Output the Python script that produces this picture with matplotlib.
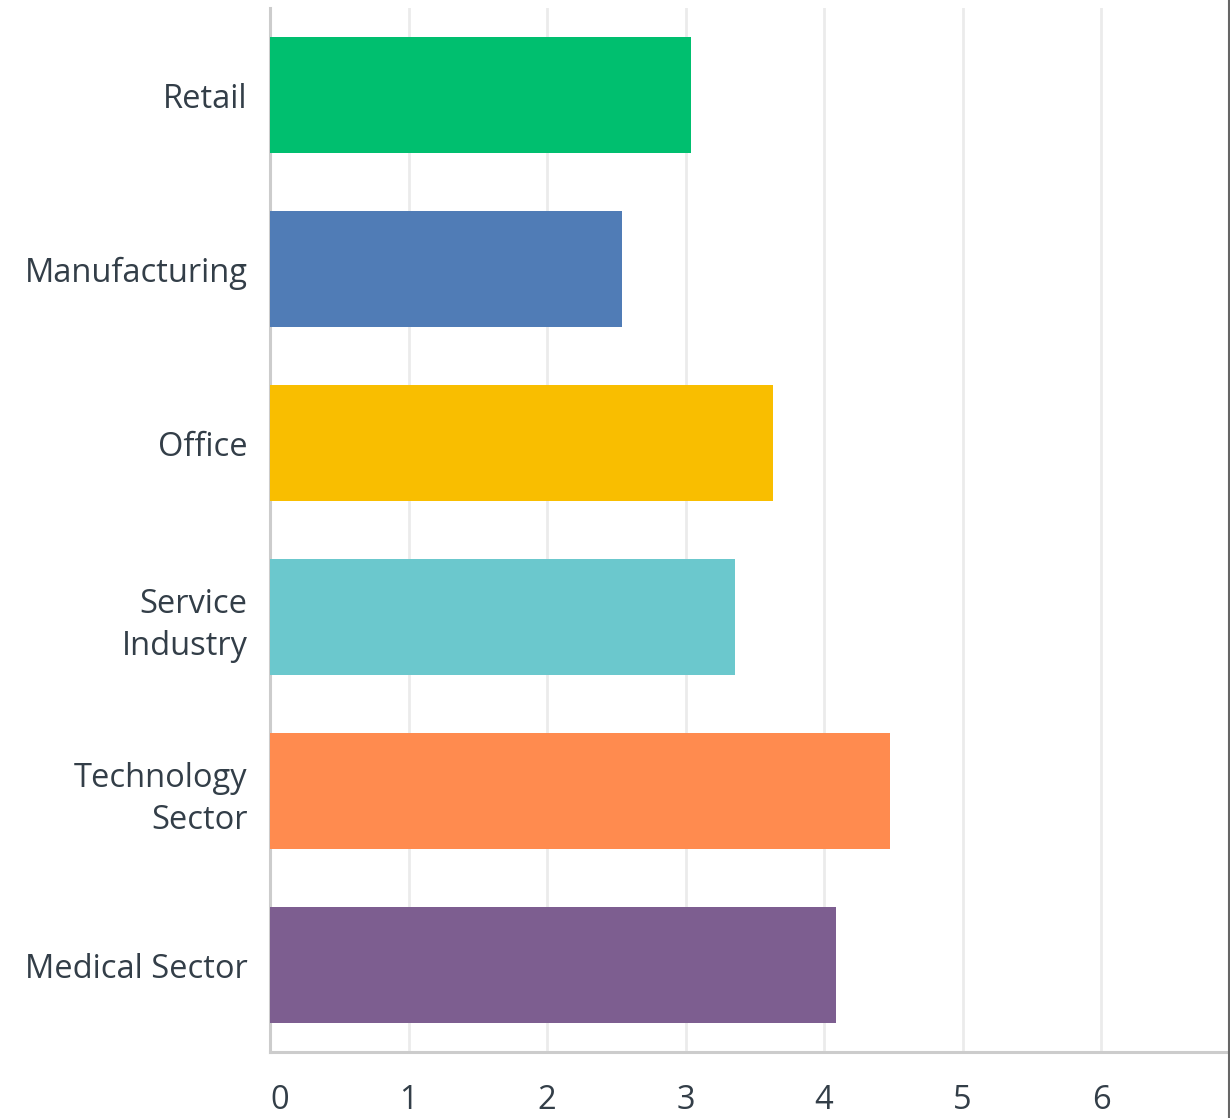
import matplotlib
matplotlib.use("Agg")
import matplotlib.pyplot as plt
from matplotlib.lines import Line2D

# Данные
categories = ["Retail", "Manufacturing", "Office", "Service\nIndustry",
              "Technology\nSector", "Medical Sector"]
values = [3.04, 2.54, 3.63, 3.36, 4.48, 4.09]
colors = ["#00BF6F", "#507CB6", "#F9BE00", "#6BC8CD", "#FF8B4F", "#7D5E90"]
x_ticks = [0, 1, 2, 3, 4, 5, 6]

plt.rcParams['font.family'] = ['Open Sans', 'DejaVu Sans']

fig = plt.figure(figsize=(12.3, 11.18), dpi=100)
ax = fig.add_axes([270 / 1230, 66 / 1118, 960 / 1230, 1044 / 1118])

ax.barh(range(len(categories)), values, height=0.667, color=colors, zorder=3)

ax.set_ylim(len(categories) - 0.5, -0.5)
ax.set_xlim(0, 960 / 138.5)
ax.set_xticks(x_ticks)
ax.set_yticks(range(len(categories)))
ax.set_yticklabels(categories, linespacing=1.35)

ax.grid(axis='x', color='#ebebeb', linewidth=2, zorder=0)
ax.tick_params(axis='both', length=0, labelsize=23.5, labelcolor='#333e48')
ax.tick_params(axis='x', pad=23)
ax.tick_params(axis='y', pad=16)

# ноль сдвинут вправо, чтобы не обрезался
ax.get_xticklabels()[0].set_horizontalalignment('left')

for side in ['top', 'right']:
    ax.spines[side].set_visible(False)
for side in ['left', 'bottom']:
    ax.spines[side].set_color('#cccccc')
    ax.spines[side].set_linewidth(2.2)

# тёмная полоска у правого края
fig.add_artist(Line2D([1228.5 / 1230, 1228.5 / 1230], [0, 1], color='#666666',
                      linewidth=1.5, transform=fig.transFigure))

fig.savefig("out.png", dpi=100)
